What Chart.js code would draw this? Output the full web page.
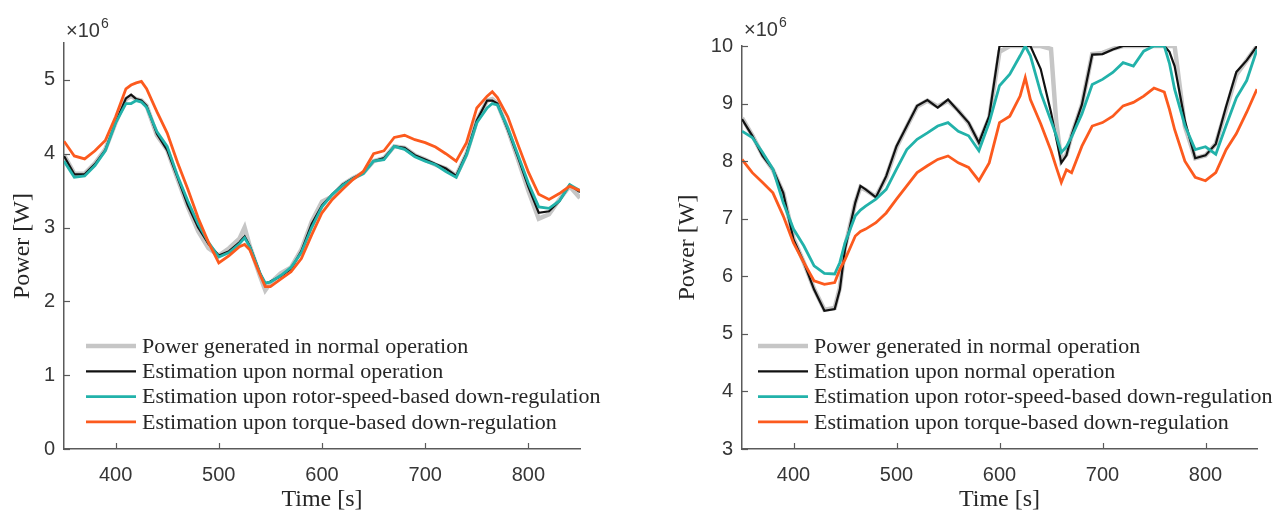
<!DOCTYPE html>
<html>
<head>
<meta charset="utf-8">
<title>Power estimation</title>
<script src="https://cdn.jsdelivr.net/npm/chart.js@4.4.1/dist/chart.umd.min.js"></script>
<style>
  body { margin: 0; background: #fff; width: 1280px; height: 512px; overflow: hidden; }
  .panel { position: absolute; top: 0; width: 640px; height: 512px; }
</style>
</head>
<body>
<div class="panel" style="left:0"><canvas id="chartLeft" width="640" height="512"></canvas></div>
<div class="panel" style="left:640px"><canvas id="chartRight" width="640" height="512"></canvas></div>

<script>
// legend texts, same for both panels
const seriesLabels = [
    "Power generated in normal operation",
    "Estimation upon normal operation",
    "Estimation upon rotor-speed-based down-regulation",
    "Estimation upon torque-based down-regulation"
];

const xTicks = [400, 500, 600, 700, 800];
const yTicksLeft = [0, 1, 2, 3, 4, 5];
const yTicksRight = [3, 4, 5, 6, 7, 8, 9, 10];

// left panel (values in 10^6 W)
const timeLeft = [350, 360, 370, 380, 390, 400, 410, 415, 420, 425,
                  430, 440, 450, 460, 470, 480, 490, 500, 510, 520,
                  525, 530, 540, 545, 550, 560, 570, 580, 590, 600,
                  610, 620, 630, 640, 650, 660, 670, 680, 690, 700,
                  710, 720, 730, 740, 750, 760, 765, 770, 780, 790,
                  800, 810, 820, 830, 840, 850];
const measuredLeft = [3.98, 3.73, 3.73, 3.87, 4.06, 4.42, 4.74, 4.78, 4.74, 4.72,
                      4.65, 4.25, 4.05, 3.66, 3.28, 2.95, 2.72, 2.62, 2.72, 2.85,
                      3.00, 2.75, 2.34, 2.15, 2.25, 2.38, 2.46, 2.70, 3.08, 3.35,
                      3.42, 3.58, 3.67, 3.74, 3.90, 3.94, 4.10, 4.08, 3.98, 3.92,
                      3.85, 3.80, 3.70, 4.00, 4.45, 4.72, 4.74, 4.68, 4.33, 3.92,
                      3.50, 3.12, 3.18, 3.38, 3.56, 3.40];
const normalLeft = [3.97, 3.72, 3.72, 3.86, 4.05, 4.42, 4.75, 4.80, 4.74, 4.72,
                    4.65, 4.27, 4.05, 3.68, 3.30, 3.00, 2.78, 2.62, 2.68, 2.80,
                    2.88, 2.75, 2.38, 2.24, 2.27, 2.34, 2.44, 2.68, 3.05, 3.30,
                    3.45, 3.58, 3.67, 3.74, 3.90, 3.94, 4.10, 4.08, 3.98, 3.92,
                    3.86, 3.80, 3.70, 4.00, 4.45, 4.72, 4.72, 4.68, 4.33, 3.95,
                    3.55, 3.20, 3.22, 3.36, 3.58, 3.48];
const rotorLeft = [3.90, 3.68, 3.70, 3.84, 4.04, 4.42, 4.68, 4.68, 4.72, 4.70,
                   4.63, 4.30, 4.10, 3.70, 3.36, 3.05, 2.80, 2.60, 2.66, 2.78,
                   2.86, 2.74, 2.38, 2.25, 2.26, 2.35, 2.46, 2.66, 3.00, 3.28,
                   3.45, 3.57, 3.66, 3.73, 3.90, 3.92, 4.10, 4.06, 3.96, 3.90,
                   3.85, 3.76, 3.68, 3.98, 4.42, 4.62, 4.68, 4.66, 4.35, 3.98,
                   3.60, 3.28, 3.26, 3.36, 3.58, 3.50];
const torqueLeft = [4.17, 3.97, 3.93, 4.04, 4.18, 4.50, 4.88, 4.93, 4.96, 4.98,
                    4.88, 4.57, 4.28, 3.88, 3.52, 3.13, 2.80, 2.52, 2.62, 2.74,
                    2.77, 2.70, 2.36, 2.20, 2.20, 2.30, 2.40, 2.58, 2.90, 3.20,
                    3.38, 3.52, 3.65, 3.76, 4.00, 4.04, 4.22, 4.25, 4.19, 4.15,
                    4.09, 4.00, 3.90, 4.15, 4.62, 4.78, 4.84, 4.76, 4.50, 4.12,
                    3.75, 3.45, 3.38, 3.46, 3.56, 3.50];

// right panel (values in 10^6 W)
const timeRight = [350, 360, 370, 380, 390, 400, 410, 420, 430, 440,
                   445, 450, 460, 465, 470, 480, 490, 500, 510, 520,
                   530, 540, 550, 560, 570, 580, 590, 600, 610, 620,
                   625, 630, 640, 650, 655, 660, 665, 670, 680, 690,
                   700, 710, 720, 730, 740, 750, 760, 765, 770, 780,
                   790, 800, 810, 820, 830, 840, 850];
const measuredRight = [8.75, 8.45, 8.10, 7.85, 7.45, 6.66, 6.24, 5.78, 5.42, 5.45,
                       5.80, 6.50, 7.28, 7.55, 7.50, 7.38, 7.72, 8.24, 8.60, 8.95,
                       9.05, 8.95, 9.05, 8.88, 8.66, 8.32, 8.75, 9.90, 10.0, 10.0,
                       10.0, 10.0, 10.0, 9.95, 8.70, 8.00, 8.12, 8.45, 8.98, 9.86,
                       9.88, 9.95, 10.0, 10.0, 10.0, 10.0, 10.0, 10.0, 10.0, 8.60,
                       8.05, 8.10, 8.30, 8.90, 9.50, 9.75, 10.0];
const normalRight = [8.73, 8.44, 8.09, 7.86, 7.45, 6.64, 6.24, 5.77, 5.40, 5.43,
                     5.77, 6.47, 7.28, 7.57, 7.51, 7.37, 7.74, 8.26, 8.61, 8.96,
                     9.06, 8.93, 9.07, 8.87, 8.67, 8.32, 8.78, 10.0, 10.0, 10.0,
                     10.0, 10.0, 9.60, 8.85, 8.40, 7.97, 8.10, 8.45, 8.98, 9.85,
                     9.86, 9.94, 10.0, 10.0, 10.0, 10.0, 10.0, 9.90, 9.65, 8.70,
                     8.05, 8.10, 8.30, 8.95, 9.55, 9.75, 10.0];
const rotorRight = [8.52, 8.41, 8.15, 7.86, 7.28, 6.82, 6.53, 6.18, 6.05, 6.04,
                    6.24, 6.58, 7.05, 7.15, 7.22, 7.34, 7.51, 7.86, 8.20, 8.38,
                    8.49, 8.61, 8.67, 8.52, 8.44, 8.18, 8.67, 9.31, 9.51, 9.83,
                    10.0, 9.83, 9.19, 8.70, 8.45, 8.15, 8.25, 8.42, 8.82, 9.33,
                    9.42, 9.54, 9.71, 9.65, 9.91, 10.0, 10.0, 9.70, 9.25, 8.62,
                    8.20, 8.25, 8.12, 8.62, 9.10, 9.40, 9.94];
const torqueRight = [8.03, 7.80, 7.63, 7.45, 7.05, 6.58, 6.24, 5.92, 5.86, 5.89,
                     6.12, 6.29, 6.70, 6.78, 6.82, 6.93, 7.10, 7.34, 7.57, 7.80,
                     7.92, 8.03, 8.09, 7.97, 7.89, 7.66, 7.97, 8.67, 8.78, 9.13,
                     9.45, 9.07, 8.65, 8.18, 7.90, 7.63, 7.85, 7.80, 8.26, 8.61,
                     8.67, 8.78, 8.96, 9.02, 9.13, 9.27, 9.20, 8.90, 8.55, 8.00,
                     7.72, 7.66, 7.80, 8.20, 8.48, 8.85, 9.25];

const lineColors = ["#c6c6c6", "#111111", "#22b2aa", "#fc5a1e"];
const lineWidths = [4.5, 2.2, 2.8, 2.8];
const axisColor = "#5a5a5a";
const textColor = "#363636";

function toPoints(time, values) {
    return time.map((t, i) => ({ x: t, y: values[i] }));
}

// inward ticks, x10^6 label and the in-axes legend (MATLAB look)
const decorations = {
    id: "decorations",
    afterDraw(chart, args, opts) {
        const ctx = chart.ctx;
        const xs = chart.scales.x;
        const ys = chart.scales.y;
        ctx.save();

        ctx.strokeStyle = axisColor;
        ctx.lineWidth = 1.2;
        xs.ticks.forEach(t => {
            const px = Math.round(xs.getPixelForValue(t.value)) + 0.5;
            ctx.beginPath();
            ctx.moveTo(px, ys.bottom);
            ctx.lineTo(px, ys.bottom - 6);
            ctx.stroke();
        });
        ys.ticks.forEach(t => {
            const py = Math.round(ys.getPixelForValue(t.value)) + 0.5;
            ctx.beginPath();
            ctx.moveTo(xs.left, py);
            ctx.lineTo(xs.left + 6, py);
            ctx.stroke();
        });

        // exponent
        ctx.fillStyle = textColor;
        ctx.textAlign = "left";
        ctx.textBaseline = "alphabetic";
        ctx.font = '20px "Liberation Sans"';
        ctx.fillText("\u00d710", opts.expX, opts.expY);
        const w = ctx.measureText("\u00d710").width;
        ctx.font = '14px "Liberation Sans"';
        ctx.fillText("6", opts.expX + w + 1, opts.expY - 9);

        // legend
        ctx.font = '22px "Liberation Serif"';
        ctx.textBaseline = "middle";
        chart.data.datasets.forEach((ds, i) => {
            const y = opts.legendY + i * 25.3;
            ctx.strokeStyle = ds.borderColor;
            ctx.lineWidth = ds.borderWidth;
            ctx.beginPath();
            ctx.moveTo(opts.legendX, y);
            ctx.lineTo(opts.legendX + 50, y);
            ctx.stroke();
            ctx.fillStyle = "#262626";
            ctx.fillText(ds.label, opts.legendX + 56, y + 1);
        });

        ctx.restore();
    }
};

function makeChart(canvasId, time, series, yTicks, yMin, yMax, box) {
    const datasets = series.map((values, i) => ({
        label: seriesLabels[i],
        data: toPoints(time, values),
        borderColor: lineColors[i],
        borderWidth: lineWidths[i],
        pointRadius: 0,
        tension: 0,
        fill: false,
        order: series.length - i
    }));

    const ctx = document.getElementById(canvasId).getContext("2d");
    return new Chart(ctx, {
        type: "line",
        data: { datasets: datasets },
        plugins: [decorations],
        options: {
            responsive: false,
            animation: false,
            devicePixelRatio: 1,
            layout: { padding: { left: 0, top: box.top, right: box.right, bottom: 0 } },
            plugins: {
                legend: { display: false },
                tooltip: { enabled: false },
                decorations: { expX: box.expX, expY: box.expY, legendX: box.legendX, legendY: 346 }
            },
            scales: {
                x: {
                    type: "linear",
                    min: 350,
                    max: 850,
                    afterBuildTicks: scale => { scale.ticks = xTicks.map(v => ({ value: v })); },
                    afterFit: scale => { scale.height = 63; },
                    grid: { display: false, drawTicks: false },
                    border: { display: true, color: axisColor, width: 1.5 },
                    ticks: {
                        color: textColor,
                        padding: 14,
                        maxRotation: 0,
                        font: { family: "Liberation Sans", size: 20 }
                    },
                    title: {
                        display: true,
                        text: "Time [s]",
                        color: "#262626",
                        padding: 0,
                        font: { family: "Liberation Serif", size: 24, lineHeight: 1 }
                    }
                },
                y: {
                    min: yMin,
                    max: yMax,
                    afterBuildTicks: scale => { scale.ticks = yTicks.map(v => ({ value: v })); },
                    afterFit: scale => { scale.width = box.axisLeft; },
                    grid: { display: false, drawTicks: false },
                    border: { display: true, color: axisColor, width: 1.5 },
                    ticks: {
                        color: textColor,
                        padding: 9,
                        font: { family: "Liberation Sans", size: 20 }
                    },
                    title: {
                        display: true,
                        text: "Power [W]",
                        color: "#262626",
                        padding: { top: box.titlePad, bottom: 0 },
                        font: { family: "Liberation Serif", size: 24, lineHeight: 1 }
                    }
                }
            }
        }
    });
}

makeChart("chartLeft", timeLeft,
    [measuredLeft, normalLeft, rotorLeft, torqueLeft],
    yTicksLeft, 0, 5.5,
    { axisLeft: 64, top: 43, right: 60, titlePad: 11, expX: 66, expY: 37, legendX: 86 });

makeChart("chartRight", timeRight,
    [measuredRight, normalRight, rotorRight, torqueRight],
    yTicksRight, 3, 10,
    { axisLeft: 102, top: 46, right: 23, titlePad: 36, expX: 104, expY: 36, legendX: 118 });
</script>
</body>
</html>
